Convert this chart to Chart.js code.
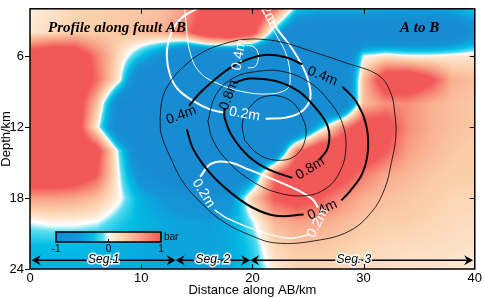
<!DOCTYPE html>
<html>
<head>
<meta charset="utf-8">
<script src="https://cdn.jsdelivr.net/npm/chart.js@4.4.1/dist/chart.umd.min.js"></script>
<style>
  html, body { margin: 0; padding: 0; background: #fff; }
</style>
</head>
<body>
<canvas id="c" width="484" height="298"></canvas>
<script>
// Coulomb stress change (bar) on a 2 km grid
const gridX = [0, 2, 4, 6, 8, 10, 12, 14, 16, 18, 20, 22, 24, 26, 28, 30, 32, 34, 36, 38, 40];
const gridDepth = [2, 4, 6, 8, 10, 12, 14, 16, 18, 20, 22, 24];
const stress = [
  [0.08, 0.15, 0.25, 0.30, 0.30, 0.35, 0.40, 0.60, 1.20, 1.60, 1.60, 0.90, -0.20, -0.35, -0.35, -0.35, -0.40, -0.45, -0.45, -0.40, -0.20],
  [0.12, 0.20, 0.30, 0.30, 0.35, 0.40, 0.50, 0.80, 1.50, 1.70, 1.20, -0.30, -1.30, -1.50, -1.50, -1.50, -1.50, -1.50, -1.50, -1.30, -0.80],
  [1.30, 1.50, 1.40, 0.80, 0.20, -0.30, -0.80, -1.50, -1.50, -1.50, -1.50, -1.50, -1.50, -1.50, -1.50, 0.00, 0.15, 0.05, 0.05, 0.10, 0.15],
  [1.50, 1.50, 1.50, 0.90, 0.10, -1.30, -1.50, -1.50, -1.50, -1.50, -1.50, -1.50, -1.50, -1.50, -1.50, 0.40, 1.40, 1.50, 1.10, 0.50, 0.40],
  [1.50, 1.50, 1.40, 0.40, -1.00, -1.50, -1.50, -1.50, -1.50, -1.50, -1.50, -1.50, -1.50, -1.50, -1.50, 0.40, 0.70, 0.70, 0.50, 0.40, 0.35],
  [1.50, 1.50, 1.40, 0.10, -1.20, -1.50, -1.50, -1.50, -1.50, -1.50, -1.50, -1.50, -1.50, -0.30, 0.70, 1.30, 1.20, 0.70, 0.50, 0.40, 0.35],
  [1.50, 1.50, 1.50, 1.20, -0.10, -1.20, -1.50, -1.50, -1.50, -1.50, -1.50, -1.20, 0.80, 1.50, 1.50, 1.40, 1.00, 0.60, 0.45, 0.35, 0.30],
  [1.50, 1.50, 1.40, 1.00, 0.00, -0.80, -1.10, -1.30, -1.40, -1.40, -0.70, 0.90, 1.50, 1.50, 1.20, 0.80, 0.55, 0.45, 0.35, 0.30, 0.30],
  [0.60, 0.60, 0.55, 0.40, 0.05, -0.40, -0.60, -0.80, -0.90, -0.70, 0.30, 1.00, 1.20, 1.00, 0.70, 0.50, 0.40, 0.35, 0.30, 0.25, 0.25],
  [0.00, 0.05, 0.05, 0.00, -0.20, -0.35, -0.45, -0.50, -0.55, -0.45, -0.05, 0.45, 0.60, 0.55, 0.45, 0.35, 0.30, 0.30, 0.25, 0.22, 0.20],
  [-0.30, -0.30, -0.30, -0.35, -0.40, -0.45, -0.50, -0.50, -0.50, -0.45, -0.20, 0.25, 0.35, 0.35, 0.30, 0.25, 0.22, 0.20, 0.20, 0.18, 0.15],
  [-0.40, -0.40, -0.40, -0.40, -0.45, -0.45, -0.50, -0.50, -0.50, -0.45, -0.25, 0.10, 0.25, 0.25, 0.22, 0.20, 0.18, 0.15, 0.15, 0.12, 0.10],
];

// slip contours [distance km, depth km]
const slip02 = [[11.7,11.2],[11.9,9.6],[12.6,8.2],[13.8,6.9],[15.5,5.7],[17.3,5.0],[19.2,4.6],[21.1,4.6],[23.0,4.9],[25.0,5.5],[28.5,6.6],[31.3,7.6],[32.4,9.0],[32.8,10.8],[32.9,12.8],[32.5,15.0],[31.9,17.2],[30.7,19.2],[28.7,20.8],[25.7,21.6],[22.1,21.8],[19.7,21.1],[17.4,20.0],[15.6,18.6],[13.8,16.7],[12.6,14.5],[11.8,12.6],[11.7,11.2]];
const slip04a = [[14.3,10.2],[15.3,9.1],[16.6,8.0],[18.0,7.0],[19.5,6.3],[21.1,5.9],[23.0,6.1],[24.5,6.7]];
const slip04b = [[28.1,8.6],[29.3,9.8],[30.2,11.7],[30.4,13.9],[29.9,15.9],[28.8,17.4],[28.0,18.2]];
const slip04c = [[24.6,19.4],[22.1,19.5],[20.0,18.8],[18.0,17.5],[16.2,15.9],[14.7,13.9],[14.1,12.2]];
const slip06 = [[16.0,11.5],[16.7,9.3],[18.2,7.9],[20.4,7.3],[22.7,7.3],[25.1,8.2],[26.9,9.8],[28.1,11.7],[28.4,13.9],[27.8,15.9],[26.6,17.2],[24.8,17.8],[22.1,17.5],[19.7,16.4],[17.7,14.8],[16.4,13.0],[16.0,11.5]];
const slip08a = [[18.3,8.3],[19.7,7.9],[22.1,8.1],[24.2,9.0],[25.7,10.4],[26.8,12.0],[26.8,13.7],[26.0,14.8]];
const slip08b = [[23.6,16.3],[21.5,15.6],[19.7,14.5],[18.2,12.8],[17.5,11.2],[17.5,10.4]];
const slip10 = [[19.3,13.1],[19.1,11.7],[19.7,10.4],[21.2,9.4],[23.3,9.7],[24.5,11.2],[24.8,12.8],[23.9,14.4],[22.1,14.8],[20.4,14.2],[19.3,13.1]];
// white contours
const white02a = [[15.5,1.8],[14.2,2.4],[13.2,3.2],[12.5,4.6],[12.3,6.0],[12.6,7.6],[13.3,8.8],[14.7,9.8],[16.2,10.5],[17.5,10.8]];
const white02b = [[21.2,11.3],[23.0,11.2],[24.4,10.7],[25.2,9.6],[25.0,8.0],[24.3,6.5],[23.3,5.0],[22.3,3.8],[21.8,3.0]];
const white03 = [[13.9,1.6],[14.0,2.9],[14.4,5.7],[15.3,7.4],[17.1,8.4],[19.1,9.0],[21.5,9.2],[23.1,8.8],[23.4,8.0],[23.1,6.0],[22.2,4.3],[21.5,3.2],[20.8,1.8]];
const white04 = [[19.5,5.1],[20.1,5.2],[20.5,5.7],[20.5,6.4],[20.2,6.9],[19.6,7.0]];
const white02c = [[15.3,16.2],[16.3,15.1],[18.0,15.0],[19.7,15.6],[21.8,16.4],[24.0,17.3],[25.4,18.1],[25.9,18.8]];
const white02d = [[25.1,21.1],[23.3,21.4],[20.6,20.8],[17.7,19.7],[16.6,19.0]];

const labelText  = ['0.4m', '0.4m', '0.4m', '0.8m', '0.8m', '0.2m', '0.4m', '0.2m', '0.2m', '0.2m'];
const labelKm    = [13.6, 26.3, 26.3, 17.9, 25.2, 19.3, 18.8, 15.6, 25.9, 21.2];
const labelDepth = [11.0, 7.7, 19.0, 9.3, 15.5, 10.9, 5.9, 17.6, 20.1, 2.1];
const labelAngle = [-20, 22, -25, -70, -32, 10, -80, 58, -62, 62];
const labelWhite = [false, false, false, false, false, true, true, true, true, true];

const segNames = ['Seg.1', 'Seg. 2', 'Seg. 3'];
const segStart = [0.15, 13.1, 19.8];
const segEnd = [13.1, 19.8, 39.85];
const segDepth = 23.25;

const xTicks = [0, 10, 20, 30, 40];
const yTicks = [6, 12, 18, 24];

const cmap = [
  [-1.0, [24, 140, 210]],
  [-0.6, [20, 150, 215]],
  [-0.3, [0, 190, 228]],
  [-0.1, [90, 222, 240]],
  [0.0, [255, 255, 255]],
  [0.1, [253, 234, 214]],
  [0.3, [251, 207, 170]],
  [0.6, [248, 160, 135]],
  [1.0, [243, 88, 88]],
];

function colorFor(v) {
  if (v <= cmap[0][0]) return cmap[0][1];
  for (let i = 1; i < cmap.length; i++) {
    if (v <= cmap[i][0]) {
      const [a, ca] = cmap[i - 1], [b, cb] = cmap[i];
      const t = (v - a) / (b - a);
      return [0, 1, 2].map(k => ca[k] + (cb[k] - ca[k]) * t);
    }
  }
  return cmap[cmap.length - 1][1];
}

function sample(xv, dv) {
  const fx = Math.min(Math.max((xv - gridX[0]) / 2, 0), gridX.length - 1.0001);
  const fy = Math.min(Math.max((dv - gridDepth[0]) / 2, 0), gridDepth.length - 1.0001);
  const i = Math.floor(fx), j = Math.floor(fy), tx = fx - i, ty = fy - j;
  const top = stress[j][i] * (1 - tx) + stress[j][i + 1] * tx;
  const bot = stress[j + 1][i] * (1 - tx) + stress[j + 1][i + 1] * tx;
  return top * (1 - ty) + bot * ty;
}

const pts = (arr) => arr.map(p => ({ x: p[0], y: p[1] }));
const line = (arr, color, width) => ({
  data: pts(arr), showLine: true, borderColor: color, borderWidth: width,
  pointRadius: 0, tension: 0.4, fill: false,
});

const heatmap = {
  id: 'heatmap',
  beforeDatasetsDraw(chart) {
    const { ctx, chartArea: a, scales: { x, y } } = chart;
    const w = Math.round(a.right - a.left), h = Math.round(a.bottom - a.top);
    const off = document.createElement('canvas');
    off.width = w; off.height = h;
    const octx = off.getContext('2d');
    const img = octx.createImageData(w, h);
    for (let j = 0; j < h; j++) {
      const dv = y.getValueForPixel(a.top + j + 0.5);
      for (let i = 0; i < w; i++) {
        const c = colorFor(sample(x.getValueForPixel(a.left + i + 0.5), dv));
        const k = (j * w + i) * 4;
        img.data[k] = c[0]; img.data[k + 1] = c[1]; img.data[k + 2] = c[2]; img.data[k + 3] = 255;
      }
    }
    octx.putImageData(img, 0, 0);
    ctx.drawImage(off, a.left, a.top);
  }
};

function arrowHead(ctx, tx, ty, dir) {
  ctx.beginPath();
  ctx.moveTo(tx, ty);
  ctx.lineTo(tx - dir * 9, ty - 5);
  ctx.lineTo(tx - dir * 6, ty);
  ctx.lineTo(tx - dir * 9, ty + 5);
  ctx.closePath();
  ctx.fill();
}

const overlay = {
  id: 'overlay',
  afterDatasetsDraw(chart) {
    const { ctx, chartArea: a, scales: { x, y } } = chart;
    ctx.save();
    ctx.beginPath();
    ctx.rect(a.left, a.top, a.right - a.left, a.bottom - a.top);
    ctx.clip();
    ctx.font = '14px "Liberation Sans", Arial, sans-serif';
    ctx.textAlign = 'center';
    ctx.textBaseline = 'middle';
    labelText.forEach((t, i) => {
      ctx.save();
      ctx.translate(x.getPixelForValue(labelKm[i]), y.getPixelForValue(labelDepth[i]));
      ctx.rotate(labelAngle[i] * Math.PI / 180);
      ctx.fillStyle = labelWhite[i] ? '#fff' : '#000';
      ctx.fillText(t, 0, 0);
      ctx.restore();
    });

    // fault segments
    const py = y.getPixelForValue(segDepth);
    ctx.strokeStyle = '#000';
    ctx.fillStyle = '#000';
    ctx.lineWidth = 1.5;
    segNames.forEach((name, i) => {
      const x0 = x.getPixelForValue(segStart[i]), x1 = x.getPixelForValue(segEnd[i]);
      ctx.beginPath();
      ctx.moveTo(x0 + 4, py);
      ctx.lineTo(x1 - 4, py);
      ctx.stroke();
      arrowHead(ctx, x0, py, -1);
      arrowHead(ctx, x1, py, 1);
    });
    ctx.font = 'italic 12px "Liberation Sans", Arial, sans-serif';
    segNames.forEach((name, i) => {
      const cx = x.getPixelForValue((segStart[i] + segEnd[i]) / 2 + (i === 2 ? -0.7 : 0));
      ctx.lineWidth = 3;
      ctx.strokeStyle = 'rgba(255,255,255,0.9)';
      ctx.strokeText(name, cx, py);
      ctx.fillStyle = '#000';
      ctx.fillText(name, cx, py);
    });
    ctx.restore();
  },
  afterDraw(chart) {
    const { ctx, chartArea: a, scales: { x, y } } = chart;
    ctx.save();
    // frame and inward ticks
    ctx.strokeStyle = '#000';
    ctx.lineWidth = 1.5;
    ctx.strokeRect(a.left, a.top, a.right - a.left, a.bottom - a.top);
    ctx.lineWidth = 1;
    ctx.beginPath();
    xTicks.slice(1, -1).forEach(v => {
      const px = Math.round(x.getPixelForValue(v)) + 0.5;
      ctx.moveTo(px, a.top); ctx.lineTo(px, a.top + 5);
      ctx.moveTo(px, a.bottom); ctx.lineTo(px, a.bottom - 5);
    });
    yTicks.slice(0, -1).forEach(v => {
      const py = Math.round(y.getPixelForValue(v)) + 0.5;
      ctx.moveTo(a.right, py); ctx.lineTo(a.right - 5, py);
    });
    ctx.stroke();

    // colour bar
    const cbx = 56, cby = 232, cbw = 105, cbh = 10;
    const g = ctx.createLinearGradient(cbx, 0, cbx + cbw, 0);
    cmap.forEach(([v, c]) => g.addColorStop((v + 1) / 2, `rgb(${c[0]},${c[1]},${c[2]})`));
    ctx.fillStyle = g;
    ctx.fillRect(cbx, cby, cbw, cbh);
    ctx.lineWidth = 1.5;
    ctx.strokeRect(cbx, cby, cbw, cbh);
    ctx.lineWidth = 1;
    ctx.beginPath();
    ctx.moveTo(cbx + cbw / 2, cby + cbh); ctx.lineTo(cbx + cbw / 2, cby + cbh - 3);
    ctx.stroke();
    ctx.fillStyle = '#000';
    ctx.font = '10px "Liberation Sans", Arial, sans-serif';
    ctx.textAlign = 'center';
    ctx.textBaseline = 'top';
    ctx.fillText('-1', cbx, cby + cbh + 2);
    ctx.fillText('0', cbx + cbw / 2, cby + cbh + 2);
    ctx.fillText('1', cbx + cbw, cby + cbh + 2);
    ctx.textAlign = 'left';
    ctx.textBaseline = 'middle';
    ctx.fillText('bar', cbx + cbw + 3, cby + cbh / 2);

    // titles
    ctx.font = 'bold italic 15px "Liberation Serif", "Times New Roman", serif';
    ctx.textBaseline = 'alphabetic';
    ctx.fillText('Profile along fault AB', 48, 32);
    ctx.fillText('A to B', 400, 32);

    // axis titles
    ctx.font = '13px "Liberation Sans", Arial, sans-serif';
    ctx.textAlign = 'center';
    ctx.textBaseline = 'middle';
    ctx.fillText('Distance along AB/km', (a.left + a.right) / 2, 290);
    ctx.translate(6, (a.top + a.bottom) / 2);
    ctx.rotate(-Math.PI / 2);
    ctx.fillText('Depth/km', 0, 0);
    ctx.restore();
  }
};

new Chart(document.getElementById('c'), {
  type: 'scatter',
  data: {
    datasets: [
      line(slip02, '#000', 0.8),
      line(slip06, '#000', 0.8),
      line(slip10, '#000', 0.8),
      line(slip04a, '#000', 2),
      line(slip04b, '#000', 2),
      line(slip04c, '#000', 2),
      line(slip08a, '#000', 2),
      line(slip08b, '#000', 2),
      line(white03, '#fff', 1),
      line(white04, '#fff', 1),
      line(white02a, '#fff', 2),
      line(white02b, '#fff', 2),
      line(white02c, '#fff', 2),
      line(white02d, '#fff', 1.3),
    ]
  },
  options: {
    responsive: false,
    animation: false,
    events: [],
    layout: { padding: { top: 2, right: 8, left: 0, bottom: 0 } },
    plugins: { legend: { display: false }, tooltip: { enabled: false } },
    scales: {
      x: {
        type: 'linear', min: 0, max: 40,
        afterBuildTicks: (ax) => { ax.ticks = xTicks.map(v => ({ value: v })); },
        afterFit: (ax) => { ax.height = 29; },
        grid: { display: false, drawTicks: false },
        border: { display: false },
        ticks: { color: '#000', padding: 2, maxRotation: 0, autoSkip: false,
                 font: { family: '"Liberation Sans", Arial, sans-serif', size: 13 } },
      },
      y: {
        type: 'linear', min: 2, max: 24, reverse: true,
        afterBuildTicks: (ax) => { ax.ticks = yTicks.map(v => ({ value: v })); },
        afterFit: (ax) => { ax.width = 30; },
        grid: { drawOnChartArea: false, color: '#000', tickLength: 5, lineWidth: 1 },
        border: { display: false },
        ticks: { color: '#000', padding: 1, autoSkip: false,
                 font: { family: '"Liberation Sans", Arial, sans-serif', size: 13 } },
      }
    }
  },
  plugins: [heatmap, overlay]
});
</script>
</body>
</html>
